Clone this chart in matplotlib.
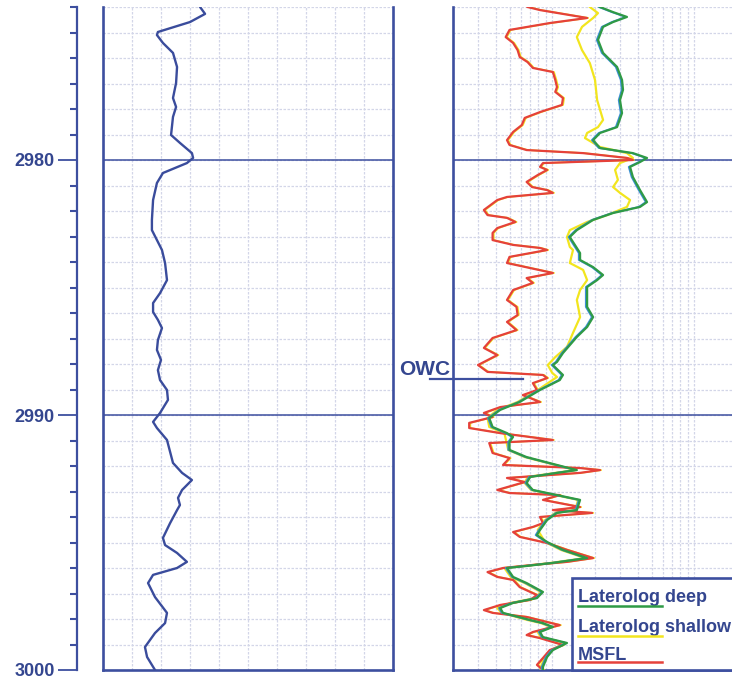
import matplotlib.pyplot as plt
from matplotlib.patches import Rectangle
from matplotlib.ticker import MultipleLocator, LogLocator, NullFormatter
from matplotlib.transforms import offset_copy

plt.rcParams['font.family'] = ['Liberation Sans', 'DejaVu Sans']

TOP_DEPTH = 2974.0
BASE_DEPTH = 3000.0
OWC_DEPTH = 2988.59

# gamma ray, API (linear track 0-150)
gr_depth = [2974.00, 2974.27, 2974.59, 2974.98, 2975.10, 2975.41, 2975.80, 2976.35, 2976.98, 2977.57,
            2977.92, 2978.31, 2979.02, 2979.33, 2979.73, 2979.92, 2980.12, 2980.51, 2980.90, 2981.57,
            2982.35, 2982.75, 2983.14, 2983.53, 2984.04, 2984.71, 2985.22, 2985.61, 2985.96, 2986.27,
            2986.59, 2987.06, 2987.45, 2987.84, 2988.24, 2988.63, 2989.02, 2989.41, 2989.92, 2990.27,
            2990.51, 2990.98, 2991.88, 2992.27, 2992.55, 2992.94, 2993.25, 2993.53, 2993.73, 2994.24,
            2994.82, 2995.10, 2995.41, 2995.76, 2996.00, 2996.27, 2996.59, 2997.14, 2997.76, 2998.16,
            2998.55, 2999.10, 2999.49, 3000.00]
gr = [50.2, 52.8, 45.0, 28.4, 27.9, 31.0, 36.2, 38.3, 37.8, 36.2,
      37.8, 36.2, 35.2, 39.8, 46.0, 46.6, 43.4, 31.0, 27.9, 25.9,
      25.3, 25.3, 27.9, 30.5, 32.1, 33.1, 29.5, 25.9, 25.9, 28.4,
      30.5, 28.4, 27.9, 30.0, 28.4, 29.5, 33.1, 33.6, 29.5, 25.9,
      27.9, 33.1, 36.2, 40.9, 46.0, 40.9, 38.8, 39.8, 38.3, 34.7,
      31.0, 32.1, 38.3, 43.4, 38.3, 25.9, 23.3, 26.9, 33.1, 32.1,
      26.9, 21.7, 22.8, 26.9]

# resistivity, ohm.m (log track 0.2-2000)
lld_depth = [2974.00, 2974.20, 2974.39, 2974.59, 2974.78, 2975.29, 2975.80, 2976.35, 2976.86, 2977.25,
             2977.65, 2978.16, 2978.71, 2978.94, 2979.22, 2979.53, 2979.73, 2979.92, 2980.08, 2980.27,
             2980.67, 2981.18, 2981.65, 2981.84, 2982.08, 2982.35, 2982.75, 2983.02, 2983.45, 2983.65,
             2983.92, 2984.20, 2984.51, 2984.71, 2984.98, 2985.76, 2986.16, 2986.55, 2986.94, 2987.57,
             2987.92, 2988.04, 2988.43, 2988.63, 2989.02, 2989.49, 2989.80, 2990.12, 2990.47, 2990.71,
             2990.86, 2991.06, 2991.37, 2991.65, 2991.96, 2992.16, 2992.27, 2992.43, 2992.67, 2992.94,
             2993.14, 2993.33, 2993.73, 2993.84, 2994.12, 2994.51, 2994.71, 2994.98, 2995.29, 2995.61,
             2995.80, 2995.92, 2996.00, 2996.35, 2996.59, 2996.94, 2997.18, 2997.37, 2997.57, 2997.76,
             2998.04, 2998.16, 2998.31, 2998.51, 2998.71, 2998.94, 2999.22, 2999.49, 2999.88, 3000.00]
lld = [2.17, 2.68, 3.36, 2.68, 2.28, 2.10, 2.28, 2.86, 3.10, 3.15,
       3.00, 3.10, 2.86, 2.17, 1.94, 2.17, 3.70, 4.65, 4.15, 3.53,
       3.70, 4.15, 4.65, 4.15, 2.68, 1.94, 1.49, 1.33, 1.49, 1.57,
       1.57, 1.94, 2.28, 2.07, 1.76, 1.76, 1.94, 1.76, 1.49, 1.19,
       1.08, 1.01, 1.19, 1.13, 0.82, 0.59, 0.43, 0.36, 0.38, 0.48,
       0.53, 0.50, 0.50, 0.66, 1.08, 1.49, 1.08, 0.70, 0.66, 0.73,
       1.08, 1.57, 1.49, 1.08, 0.92, 0.82, 0.78, 0.92, 1.19, 1.76,
       1.01, 0.66, 0.48, 0.53, 0.66, 0.86, 0.78, 0.53, 0.43, 0.45,
       0.70, 0.86, 1.01, 0.82, 0.86, 1.27, 1.01, 0.92, 0.86, 0.86]

lls_depth = [2974.00, 2974.24, 2974.43, 2974.78, 2975.18, 2975.69, 2976.20, 2976.86, 2977.65, 2978.43,
             2978.71, 2978.94, 2979.14, 2979.49, 2979.73, 2979.92, 2980.12, 2980.39, 2980.78, 2981.06,
             2981.29, 2981.57, 2981.84, 2982.16, 2982.43, 2982.75, 2983.02, 2983.41, 2983.53, 2984.04,
             2984.31, 2984.71, 2985.10, 2985.49, 2986.16, 2986.78, 2987.33, 2987.73, 2988.04, 2988.35,
             2988.51, 2989.02, 2989.49, 2989.80, 2990.12, 2990.47, 2990.71, 2991.37, 2991.65, 2991.96,
             2992.16, 2992.27, 2992.43, 2992.67, 2992.94, 2993.14, 2993.33, 2993.73, 2993.84, 2994.12,
             2994.51, 2994.98, 2995.29, 2995.61, 2995.80, 2995.92, 2996.00, 2996.35, 2996.59, 2996.94,
             2997.18, 2997.37, 2997.57, 2997.76, 2998.04, 2998.16, 2998.31, 2998.51, 2998.71, 2998.94,
             2999.22, 2999.49, 2999.88, 3000.00]
lls = [1.84, 2.10, 1.94, 1.62, 1.49, 1.62, 1.84, 2.00, 2.07, 2.28,
       2.10, 1.76, 1.70, 2.17, 3.36, 3.70, 3.00, 2.77, 2.90, 2.68,
       3.00, 3.53, 3.36, 2.43, 1.76, 1.33, 1.27, 1.33, 1.40, 1.33,
       1.65, 1.76, 1.57, 1.49, 1.57, 1.40, 1.27, 1.05, 0.93, 1.00,
       1.08, 0.79, 0.57, 0.41, 0.35, 0.36, 0.46, 0.49, 0.64, 1.05,
       1.45, 1.05, 0.67, 0.64, 0.71, 1.05, 1.52, 1.45, 1.05, 0.89,
       0.79, 0.89, 1.15, 1.70, 0.98, 0.64, 0.46, 0.51, 0.64, 0.83,
       0.76, 0.51, 0.41, 0.44, 0.67, 0.83, 0.98, 0.79, 0.83, 1.23,
       0.98, 0.89, 0.83, 0.83]

msfl_depth = [2974.00, 2974.12, 2974.43, 2974.63, 2974.90, 2975.18, 2975.41, 2975.69, 2975.96, 2976.16,
              2976.39, 2976.55, 2976.86, 2977.14, 2977.33, 2977.57, 2977.84, 2978.12, 2978.35, 2978.63,
              2978.90, 2979.22, 2979.41, 2979.61, 2979.73, 2979.92, 2980.00, 2980.12, 2980.27, 2980.39,
              2980.59, 2980.86, 2981.06, 2981.18, 2981.29, 2981.45, 2981.57, 2981.96, 2982.16, 2982.27,
              2982.43, 2982.67, 2982.86, 2983.14, 2983.33, 2983.45, 2983.53, 2983.80, 2984.04, 2984.43,
              2984.63, 2984.82, 2985.10, 2985.49, 2985.76, 2986.08, 2986.35, 2986.67, 2986.98, 2987.37,
              2987.65, 2988.04, 2988.31, 2988.43, 2988.55, 2988.75, 2989.02, 2989.22, 2989.49, 2989.69,
              2989.92, 2990.08, 2990.31, 2990.51, 2990.71, 2990.98, 2991.10, 2991.49, 2991.69, 2991.96,
              2992.08, 2992.16, 2992.27, 2992.47, 2992.63, 2992.94, 2993.06, 2993.14, 2993.33, 2993.61,
              2993.73, 2993.84, 2994.00, 2994.24, 2994.39, 2994.59, 2994.78, 2995.02, 2995.29, 2995.61,
              2995.76, 2995.88, 2996.00, 2996.16, 2996.35, 2996.47, 2996.75, 2997.06, 2997.25, 2997.45,
              2997.65, 2997.76, 2997.92, 2998.12, 2998.24, 2998.51, 2998.63, 2998.75, 2999.02, 2999.22,
              2999.53, 2999.80, 3000.00]
msfl = [0.67, 0.82, 1.76, 0.96, 0.50, 0.47, 0.53, 0.57, 0.59, 0.67,
        0.73, 1.01, 1.05, 1.08, 1.05, 1.19, 1.17, 0.82, 0.64, 0.61,
        0.53, 0.48, 0.50, 0.66, 1.65, 3.36, 3.70, 0.86, 0.82, 0.92,
        0.79, 0.66, 0.72, 0.92, 1.01, 0.48, 0.41, 0.33, 0.35, 0.48,
        0.55, 0.41, 0.38, 0.38, 0.53, 0.82, 0.92, 0.50, 0.48, 1.01,
        0.66, 0.73, 0.53, 0.48, 0.56, 0.57, 0.48, 0.56, 0.38, 0.33,
        0.41, 0.30, 0.35, 0.86, 0.92, 0.73, 0.78, 0.62, 0.82, 0.43,
        0.33, 0.38, 0.26, 0.26, 0.43, 1.01, 0.36, 0.38, 0.50, 0.45,
        1.57, 2.17, 1.57, 0.48, 0.64, 0.41, 0.50, 1.13, 0.86, 1.57,
        1.01, 1.91, 0.82, 0.86, 0.73, 0.53, 0.59, 0.92, 1.27, 1.94,
        1.27, 0.73, 0.45, 0.35, 0.41, 0.53, 0.59, 0.78, 0.70, 0.43,
        0.33, 0.38, 0.66, 0.92, 1.13, 0.73, 0.66, 0.82, 1.19, 0.96,
        0.86, 0.78, 0.86]

depth_labels = [2980, 2990, 3000]
curve_names = ['Laterolog deep', 'Laterolog shallow', 'MSFL']

BLUE = '#3d4f9f'
TEXT_BLUE = '#34468f'
GRID = '#d3d6e8'
GREEN = '#2f9a45'
YELLOW = '#f2e51e'
RED = '#e5413a'
SHADOW_BLUE = '#3b8fd4'

W, H = 732, 683


def box(x0, y0, x1, y1):
    # pixel box (top-left origin) -> figure fraction rect
    return [x0 / W, 1 - y1 / H, (x1 - x0) / W, (y1 - y0) / H]


fig = plt.figure(figsize=(W / 100, H / 100), dpi=100)

# depth scale
ax_d = fig.add_axes(box(77, 7, 95, 670))
ax_d.set_ylim(BASE_DEPTH, TOP_DEPTH)
for s in ['top', 'right', 'bottom']:
    ax_d.spines[s].set_visible(False)
ax_d.spines['left'].set_color(BLUE)
ax_d.spines['left'].set_linewidth(1.6)
ax_d.set_xticks([])
ax_d.set_yticks(depth_labels)
ax_d.set_yticklabels([str(d) for d in depth_labels], fontweight='bold')
ax_d.yaxis.set_minor_locator(MultipleLocator(1))
ax_d.tick_params(axis='y', which='major', length=14, width=1.3, color=BLUE,
                 labelcolor=TEXT_BLUE, labelsize=13, pad=2)
ax_d.tick_params(axis='y', which='minor', length=5, width=1.5, color=BLUE)
ax_d.patch.set_alpha(0)

# track 1 : gamma ray
ax_gr = fig.add_axes(box(103, 7, 393, 670))
ax_gr.set_xlim(0, 150)
ax_gr.set_ylim(BASE_DEPTH, TOP_DEPTH)
ax_gr.xaxis.set_major_locator(MultipleLocator(15))
ax_gr.yaxis.set_major_locator(MultipleLocator(1))
ax_gr.grid(True, color=GRID, lw=0.9, ls=(0, (2, 1.2)))
ax_gr.tick_params(left=False, bottom=False, labelleft=False, labelbottom=False)

# track 2 : resistivity
ax_rt = fig.add_axes(box(453, 7, 1021, 670))
ax_rt.set_xscale('log')
ax_rt.set_xlim(0.2, 2000)
ax_rt.set_ylim(BASE_DEPTH, TOP_DEPTH)
ax_rt.xaxis.set_major_locator(LogLocator(base=10))
ax_rt.xaxis.set_minor_locator(LogLocator(base=10, subs=range(2, 10)))
ax_rt.xaxis.set_minor_formatter(NullFormatter())
ax_rt.yaxis.set_major_locator(MultipleLocator(1))
ax_rt.grid(True, which='both', color=GRID, lw=0.9, ls=(0, (2, 1.2)))
ax_rt.tick_params(which='both', left=False, bottom=False, labelleft=False, labelbottom=False)

for ax in (ax_gr, ax_rt):
    ax.spines['top'].set_visible(False)
    for s in ['left', 'right', 'bottom']:
        ax.spines[s].set_color(BLUE)
        ax.spines[s].set_linewidth(1.9)
    for d in depth_labels[:2]:
        ax.axhline(d, color=BLUE, lw=1.1, zorder=2)

ax_gr.plot(gr, gr_depth, color='#3a4c9c', lw=1.7, solid_joinstyle='round', zorder=3)

shift_l = offset_copy(ax_rt.transData, fig=fig, x=-1.3, y=0, units='dots')
shift_r = offset_copy(ax_rt.transData, fig=fig, x=1.2, y=0, units='dots')
ax_rt.plot(lls, lls_depth, color=YELLOW, lw=1.6, solid_joinstyle='round', zorder=3)
ax_rt.plot(msfl, msfl_depth, color=YELLOW, lw=1.2, transform=shift_r, zorder=3)
ax_rt.plot(msfl, msfl_depth, color=RED, lw=1.6, solid_joinstyle='round', zorder=4)
ax_rt.plot(lld, lld_depth, color=SHADOW_BLUE, lw=1.3, transform=shift_l, zorder=4)
ax_rt.plot(lld, lld_depth, color=GREEN, lw=1.6, solid_joinstyle='round', zorder=4)

# oil-water contact marker
ax_rt.plot([0.138, 0.62], [OWC_DEPTH, OWC_DEPTH], color=BLUE, lw=1.6, clip_on=False, zorder=5)
ax_rt.annotate('OWC', xy=(0.19, OWC_DEPTH), xytext=(0, 3), textcoords='offset points',
               ha='right', va='baseline', fontsize=15, fontweight='bold', color=TEXT_BLUE,
               annotation_clip=False)

# curve key
key = Rectangle((0.2095, 0), 1.0, 0.1388, transform=ax_rt.transAxes, fc='white',
                ec=BLUE, lw=1.9, zorder=6, clip_on=False)
ax_rt.add_patch(key)
key_colors = [GREEN, YELLOW, RED]
key_text_y = [0.1026, 0.0573, 0.0151]
key_line_y = [0.0965, 0.0513, 0.0121]
for name, c, ty, ly in zip(curve_names, key_colors, key_text_y, key_line_y):
    ax_rt.text(0.2201, ty, name, transform=ax_rt.transAxes, fontsize=13, fontweight='bold',
               color=TEXT_BLUE, va='baseline', ha='left', zorder=7)
    ax_rt.plot([0.2201, 0.368], [ly, ly], transform=ax_rt.transAxes, color=c, lw=1.8, zorder=7)

fig.savefig('out.png', dpi=100, facecolor='white')
